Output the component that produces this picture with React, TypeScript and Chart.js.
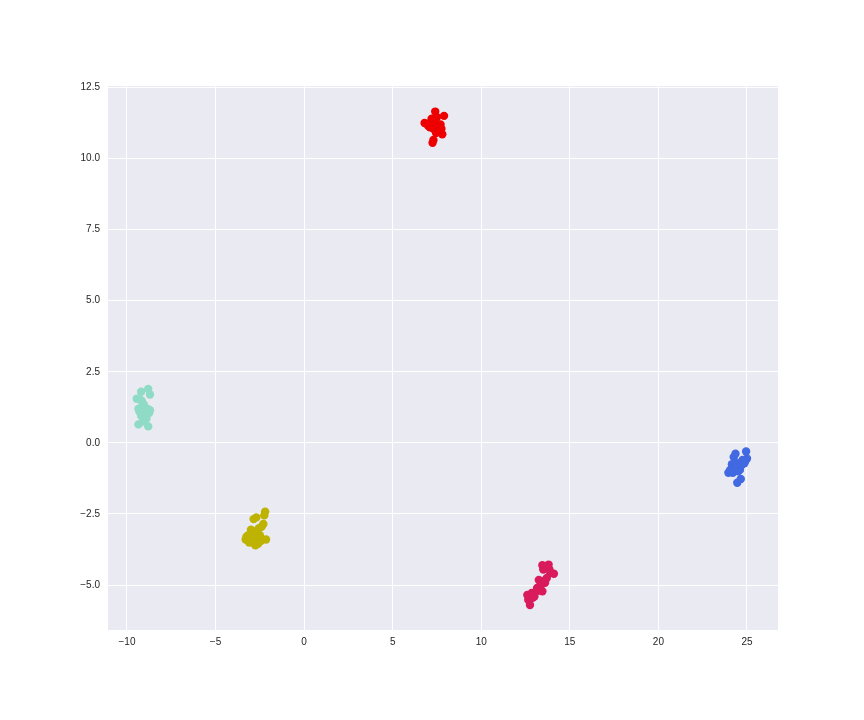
import React, { useEffect, useRef } from "react";
import { Chart, registerables } from "chart.js";

Chart.register(...registerables);

const xTicks = [-10, -5, 0, 5, 10, 15, 20, 25];
const yTicks = [-5, -2.5, 0, 2.5, 5, 7.5, 10, 12.5];

const redX = [7.4, 7.9, 6.8, 7.0, 7.2, 7.5, 7.7, 7.3, 7.6, 7.1, 7.45, 7.8, 7.25, 7.55, 7.35, 7.65, 7.0, 7.3, 7.2, 7.75];
const redY = [11.65, 11.5, 11.25, 11.15, 11.35, 11.45, 11.2, 11.05, 11.0, 11.1, 10.9, 10.85, 10.55, 10.95, 11.3, 11.15, 11.2, 10.65, 11.4, 11.05];

const tealX = [-8.8, -9.2, -8.7, -9.45, -9.35, -9.0, -8.75, -9.1, -9.2, -9.35, -8.8, -9.1, -8.95, -9.3, -8.7, -9.05, -9.15, -8.9, -9.2, -8.85];
const tealY = [1.9, 1.8, 1.7, 1.55, 1.2, 1.15, 1.05, 1.25, 0.95, 0.65, 0.58, 0.75, 1.0, 1.1, 1.15, 1.35, 1.45, 0.85, 1.5, 1.2];

const oliveX = [-2.2, -2.25, -2.7, -2.85, -2.3, -2.4, -2.55, -2.7, -3.0, -3.15, -3.25, -2.9, -2.65, -2.8, -3.1, -2.45, -2.15, -2.6, -2.95, -3.3, -2.75, -2.5];
const oliveY = [-2.42, -2.55, -2.62, -2.68, -2.85, -2.95, -3.0, -3.1, -3.05, -3.25, -3.3, -3.2, -3.35, -3.4, -3.5, -3.45, -3.4, -3.55, -3.5, -3.4, -3.6, -3.25];

const crimsonX = [13.45, 13.8, 13.85, 13.5, 14.1, 13.9, 13.25, 13.7, 13.6, 13.4, 13.15, 13.45, 12.85, 12.6, 12.65, 12.75, 13.0, 13.3, 13.55, 13.2, 12.9];
const crimsonY = [-4.3, -4.28, -4.45, -4.45, -4.6, -4.58, -4.82, -4.75, -4.92, -4.98, -5.1, -5.22, -5.28, -5.35, -5.52, -5.7, -5.4, -5.05, -4.85, -5.2, -5.45];

const blueX = [24.95, 25.0, 24.35, 24.25, 24.15, 23.95, 24.3, 24.7, 24.9, 24.45, 24.65, 24.55, 24.05, 24.4, 24.2, 24.75, 24.6, 24.35, 24.85, 24.5];
const blueY = [-0.3, -0.55, -0.38, -0.5, -0.75, -1.05, -0.98, -0.78, -0.65, -1.4, -1.27, -0.85, -0.95, -0.7, -1.05, -0.6, -0.95, -0.82, -0.72, -1.0];

const seriesList = [
  { name: "red", xs: redX, ys: redY, color: "#ee0000" },
  { name: "teal", xs: tealX, ys: tealY, color: "#8fdbc5" },
  { name: "olive", xs: oliveX, ys: oliveY, color: "#bdb300" },
  { name: "crimson", xs: crimsonX, ys: crimsonY, color: "#d91b5c" },
  { name: "blue", xs: blueX, ys: blueY, color: "#4169e1" },
];

const fmtMinus = (s: string) => s.replace("-", "\u2212");

const bgPlugin = {
  id: "plotBg",
  beforeDraw(chart: any) {
    const { ctx, chartArea } = chart;
    ctx.save();
    ctx.fillStyle = "#EAEAF2";
    ctx.fillRect(chartArea.left, chartArea.top, chartArea.right - chartArea.left, chartArea.bottom - chartArea.top);
    ctx.restore();
  },
};

export default function App() {
  const ref = useRef<HTMLCanvasElement>(null);
  useEffect(() => {
    document.body.style.margin = "0";
    const canvas = ref.current!;
    const chart = new Chart(canvas, {
      type: "scatter",
      data: {
        datasets: seriesList.map((s) => ({
          label: s.name,
          data: s.xs.map((x, i) => ({ x, y: s.ys[i] })),
          backgroundColor: s.color,
          borderWidth: 0,
          pointRadius: 4.2,
        })),
      },
      options: {
        animation: false,
        responsive: false,
        maintainAspectRatio: false,
        layout: { padding: { left: 0, right: 86, top: 86, bottom: 0 } },
        plugins: { legend: { display: false }, tooltip: { enabled: false } },
        scales: {
          x: {
            type: "linear",
            min: -11.07,
            max: 26.75,
            afterFit(scale: any) { scale.height = 90; },
            afterBuildTicks(scale: any) { scale.ticks = xTicks.map((v) => ({ value: v })); },
            grid: { color: "#ffffff", lineWidth: 1, drawTicks: false },
            border: { display: false },
            ticks: {
              padding: 6,
              color: "#262626",
              font: { family: "Liberation Sans, Arial, sans-serif", size: 10 },
              callback: (v: any) => fmtMinus(String(v)),
              maxRotation: 0,
            },
          },
          y: {
            type: "linear",
            min: -6.58,
            max: 12.55,
            afterFit(scale: any) { scale.width = 108; },
            afterBuildTicks(scale: any) { scale.ticks = yTicks.map((v) => ({ value: v })); },
            grid: { color: "#ffffff", lineWidth: 1, drawTicks: false },
            border: { display: false },
            ticks: {
              padding: 8,
              color: "#262626",
              font: { family: "Liberation Sans, Arial, sans-serif", size: 10 },
              callback: (v: any) => fmtMinus(Number(v).toFixed(1)),
            },
          },
        },
      },
      plugins: [bgPlugin],
    });
    return () => chart.destroy();
  }, []);
  return <canvas ref={ref} width={864} height={720} style={{ display: "block", width: 864, height: 720 }} />;
}
